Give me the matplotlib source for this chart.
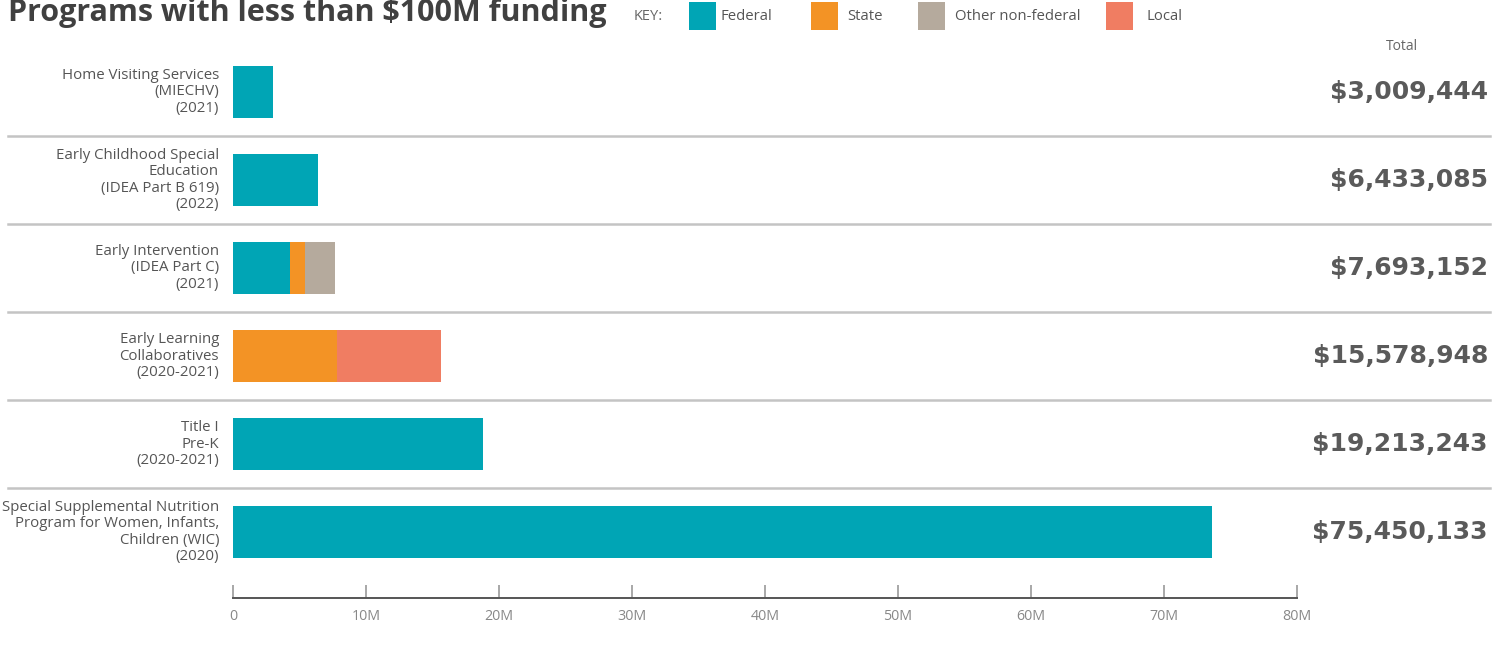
import matplotlib.pyplot as plt
from matplotlib.patches import Rectangle

plt.rcParams['font.family'] = ['Open Sans', 'DejaVu Sans']

# データ
programs = [
    'Home Visiting Services\n(MIECHV)\n(2021)',
    'Early Childhood Special\nEducation\n(IDEA Part B 619)\n(2022)',
    'Early Intervention\n(IDEA Part C)\n(2021)',
    'Early Learning\nCollaboratives\n(2020-2021)',
    'Title I\nPre-K\n(2020-2021)',
    'Special Supplemental Nutrition\nProgram for Women, Infants,\nChildren (WIC)\n(2020)',
]
federal = [3.0, 6.4, 4.3, 0.0, 18.8, 73.6]
state = [0.0, 0.0, 1.12, 7.85, 0.0, 0.0]
other = [0.0, 0.0, 2.27, 0.0, 0.0, 0.0]
local = [0.0, 0.0, 0.0, 7.8, 0.0, 0.0]
totals = ['$3,009,444', '$6,433,085', '$7,693,152',
          '$15,578,948', '$19,213,243', '$75,450,133']
xticks = [0, 10, 20, 30, 40, 50, 60, 70, 80]
xticklabels = ['0', '10M', '20M', '30M', '40M', '50M', '60M', '70M', '80M']

series = [('Federal', federal, '#00a5b5'),
          ('State', state, '#f39325'),
          ('Other non-federal', other, '#b5aa9d'),
          ('Local', local, '#f07d62')]

W, H = 1504, 655
fig = plt.figure(figsize=(W / 100, H / 100), dpi=100)
ax = fig.add_axes([233 / W, (H - 598) / H, 1064 / W, 550 / H])

# 積み上げ棒
ys = list(range(len(programs)))
left = [0.0] * len(programs)
for name, vals, col in series:
    ax.barh(ys, vals, left=left, height=0.6, color=col, linewidth=0)
    left = [a + b for a, b in zip(left, vals)]

ax.set_xlim(0, 80)
ax.set_ylim(5.75, -0.5)
ax.set_yticks([])
ax.set_xticks(xticks)
ax.set_xticklabels(xticklabels)
for s in ['top', 'right', 'left']:
    ax.spines[s].set_visible(False)
ax.spines['bottom'].set_color('#555555')
ax.spines['bottom'].set_linewidth(1.4)
ax.tick_params(axis='x', direction='in', length=9.5, width=1.2,
               color='#999999', labelcolor='#888888', labelsize=10.3, pad=8)

# 区切り線
for i in range(len(programs) - 1):
    ax.axhline(i + 0.5, xmin=(8 - 233) / 1064, xmax=(1490 - 233) / 1064,
               color='#c4c4c4', linewidth=1.8, clip_on=False)

# ラベルと合計
for i, (p, t) in enumerate(zip(programs, totals)):
    ax.text(-14 / 1064 * 80, i, p, ha='right', va='center', fontsize=10.8,
            color='#555555', linespacing=1.1)
    ax.annotate(t, xy=(1, i), xycoords=('axes fraction', 'data'),
                xytext=(1488 - 1297, 0), textcoords='offset pixels',
                ha='right', va='center', fontsize=18, fontweight='bold',
                family='DejaVu Sans', color='#5a5a5a')

fig.text(1402 / W, 1 - 46 / H, 'Total', ha='center', va='center',
         fontsize=10, color='#666666')

# タイトル
fig.text(8 / W, 1 - 13 / H, 'Programs with less than $100M funding',
         ha='left', va='center', fontsize=22, fontweight='bold', color='#404040')

# 凡例
fig.text(634 / W, 1 - 16 / H, 'KEY:', ha='left', va='center',
         fontsize=10.5, color='#666666')
key_x = [689, 811, 918, 1106]
text_x = [721, 847, 955, 1146]
for (name, vals, col), kx, tx in zip(series, key_x, text_x):
    fig.add_artist(Rectangle((kx / W, 1 - 30 / H), 27 / W, 28 / H,
                             transform=fig.transFigure, color=col, linewidth=0))
    fig.text(tx / W, 1 - 16 / H, name, ha='left', va='center',
             fontsize=10.7, color='#555555')

fig.savefig('out.png', dpi=100)
